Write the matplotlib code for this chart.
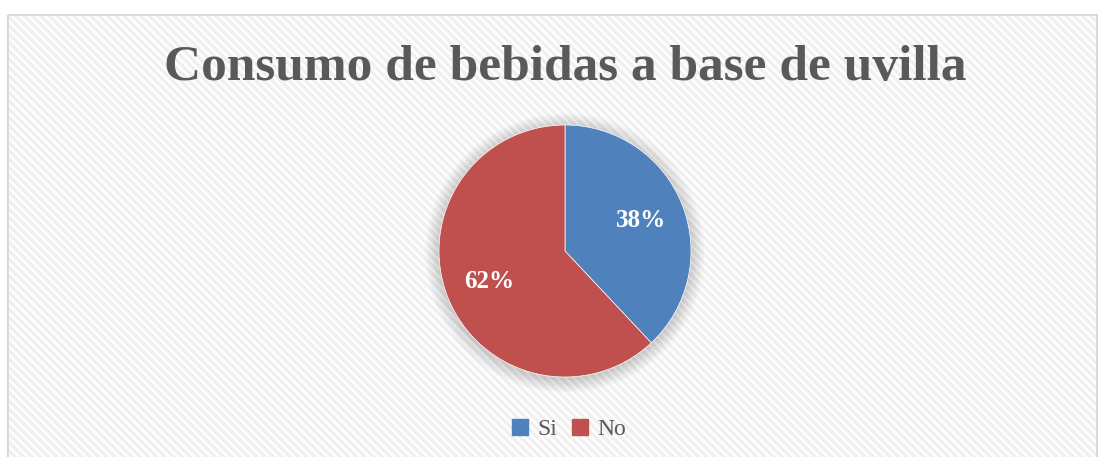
import numpy as np
import matplotlib
matplotlib.use('agg')
import matplotlib.pyplot as plt
from matplotlib.patches import Rectangle, Circle

labels = ['Si', 'No']
values = [38, 62]
colors = ['#4f81bd', '#c0504d']
title = 'Consumo de bebidas a base de uvilla'

W, H = 1108, 457
fig = plt.figure(figsize=(W / 100, H / 100), dpi=100)
fig.patch.set_facecolor('white')

# chart area with diagonal hatch and light border
bg = fig.add_axes([0, 0, 1, 1])
bg.set_xlim(0, W)
bg.set_ylim(H, 0)
bg.axis('off')
plt.rcParams['hatch.linewidth'] = 2.5
bg.add_patch(Rectangle((8, 15), 1089, 460, facecolor='white', edgecolor='#f0f0f0',
                       lw=0, hatch='\\\\\\\\'))
bg.add_patch(Rectangle((8, 15), 1089, 460, facecolor='none', edgecolor='#d9d9d9', lw=1.5))

fig.text(565 / W, 1 - 68 / H, title, ha='center', va='center', fontsize=37,
         fontweight='bold', color='#595959', family='Liberation Serif')

cx, cy, r = 565, 251, 126
# soft shadow around pie
for k in range(14):
    bg.add_patch(Circle((cx, cy + 2), r + 14 - k, facecolor='#000000', alpha=0.012,
                        edgecolor='none'))

ax = fig.add_axes([(cx - r) / W, (H - cy - r) / H, 2 * r / W, 2 * r / H])
wedges, texts, autotexts = ax.pie(values, colors=colors, startangle=90, counterclock=False,
                                  autopct='%d%%', pctdistance=0.65,
                                  wedgeprops=dict(edgecolor='white', linewidth=0.5),
                                  textprops=dict(color='white', fontsize=18, fontweight='bold',
                                                 family='Liberation Serif'))
ax.set_aspect('equal')
ax.set_xlim(-1, 1)
ax.set_ylim(-1, 1)

handles = [plt.Line2D([], [], marker='s', linestyle='none', markersize=11,
                      markerfacecolor=c, markeredgecolor=c) for c in colors]
leg = fig.legend(handles, labels, loc='center', bbox_to_anchor=(569 / W, 1 - 429 / H),
                 ncol=2, frameon=False, handlelength=0.7, handletextpad=0.4,
                 columnspacing=0.6, prop=dict(family='Liberation Serif', size=17))
for t in leg.get_texts():
    t.set_color('#595959')

fig.savefig('out.png', dpi=100)
